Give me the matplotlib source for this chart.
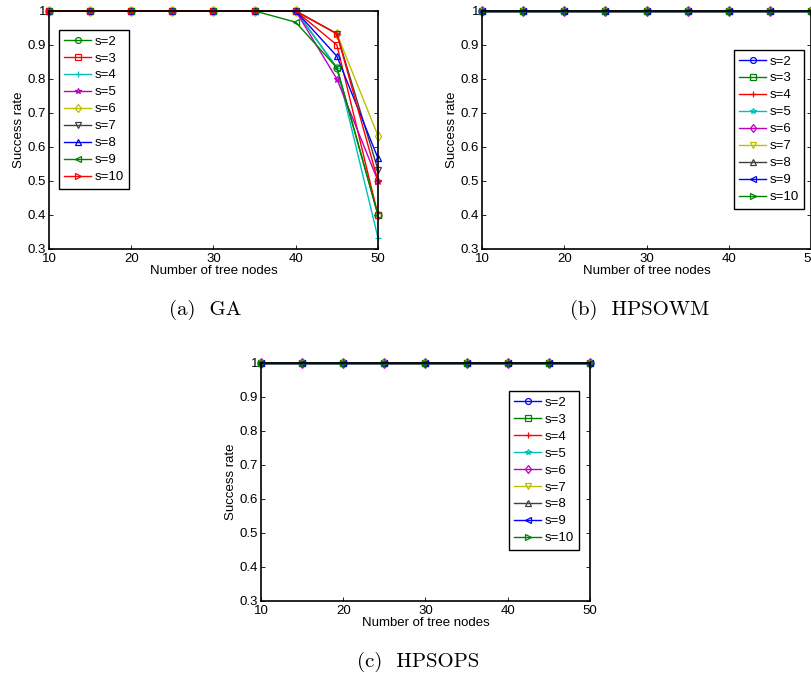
import numpy as np
import matplotlib.pyplot as plt

nodes = [10, 15, 20, 25, 30, 35, 40, 45, 50]
labels = ['s=2', 's=3', 's=4', 's=5', 's=6', 's=7', 's=8', 's=9', 's=10']

# GA success rate, one list per s
ga_s2 = [1, 1, 1, 1, 1, 1, 1, 0.833, 0.4]
ga_s3 = [1, 1, 1, 1, 1, 1, 1, 0.9, 0.4]
ga_s4 = [1, 1, 1, 1, 1, 1, 1, 0.833, 0.333]
ga_s5 = [1, 1, 1, 1, 1, 1, 1, 0.8, 0.5]
ga_s6 = [1, 1, 1, 1, 1, 1, 1, 0.933, 0.633]
ga_s7 = [1, 1, 1, 1, 1, 1, 1, 0.933, 0.533]
ga_s8 = [1, 1, 1, 1, 1, 1, 1, 0.867, 0.567]
ga_s9 = [1, 1, 1, 1, 1, 1, 0.967, 0.833, 0.4]
ga_s10 = [1, 1, 1, 1, 1, 1, 1, 0.933, 0.5]
ga = [ga_s2, ga_s3, ga_s4, ga_s5, ga_s6, ga_s7, ga_s8, ga_s9, ga_s10]

# HPSOWM and HPSOPS: always 1
hpsowm = [[1, 1, 1, 1, 1, 1, 1, 1, 1] for _ in labels]
hpsops = [[1, 1, 1, 1, 1, 1, 1, 1, 1] for _ in labels]

G = (0, 0.5, 0)
R = (1, 0, 0)
C = (0, 0.75, 0.75)
M = (0.75, 0, 0.75)
Y = (0.75, 0.75, 0)
K = (0.25, 0.25, 0.25)
B = (0, 0, 1)

ga_style = [(G, 'o'), (R, 's'), (C, '+'), (M, '*'), (Y, 'd'),
            (K, 'v'), (B, '^'), (G, '<'), (R, '>')]
pso_style = [(B, 'o'), (G, 's'), (R, '+'), (C, '*'), (M, 'd'),
             (Y, 'v'), (K, '^'), (B, '<'), (G, '>')]

plt.rcParams['font.family'] = ['Liberation Sans', 'DejaVu Sans']

fig = plt.figure(figsize=(8.12, 6.81), dpi=100)


def draw(rect, series, styles, leg_anchor, leg_loc, caption, cap_xy):
    ax = fig.add_axes(rect)
    for ys, (col, mk), lab in zip(series, styles, labels):
        ax.plot(nodes, ys, color=col, marker=mk, fillstyle='none',
                markersize=5, linewidth=1.0, markeredgewidth=0.9,
                label=lab, clip_on=False)
    ax.set_xlim(10, 50)
    ax.set_ylim(0.3, 1)
    ax.set_xticks([10, 20, 30, 40, 50])
    ax.set_yticks(np.arange(0.3, 1.01, 0.1))
    ax.set_yticklabels(['0.3', '0.4', '0.5', '0.6', '0.7', '0.8', '0.9', '1'])
    ax.tick_params(direction='in', top=True, right=True, labelsize=9.5,
                   length=3, width=0.6)
    ax.tick_params(axis='x', pad=3)
    ax.tick_params(axis='y', pad=2)
    for sp in ax.spines.values():
        sp.set_linewidth(1.2)
    ax.set_xlabel('Number of tree nodes', fontsize=9.5, labelpad=0)
    ax.set_ylabel('Success rate', fontsize=9.5, labelpad=2)
    leg = ax.legend(loc=leg_loc, bbox_to_anchor=leg_anchor, fontsize=9.5,
                    fancybox=False, edgecolor='black', framealpha=1,
                    handlelength=2.05, handletextpad=0.25, labelspacing=0.36,
                    borderpad=0.4, borderaxespad=0, markerscale=0.85)
    leg.get_frame().set_linewidth(1.0)
    fig.text(cap_xy[0], cap_xy[1], caption, fontsize=15, family='cmr10',
             ha='center', va='center')
    return ax


draw([0.0603, 0.6344, 0.4052, 0.3495], ga, ga_style, (0.03, 0.92),
     'upper left', '(a)  GA', (0.253, 0.545))
draw([0.5936, 0.6344, 0.4052, 0.3495], hpsowm, pso_style, (0.979, 0.836),
     'upper right', '(b)  HPSOWM', (0.788, 0.545))
draw([0.3214, 0.1175, 0.4052, 0.3495], hpsops, pso_style, (0.967, 0.882),
     'upper right', '(c)  HPSOPS', (0.515, 0.028))

fig.savefig('out.png', dpi=100)
